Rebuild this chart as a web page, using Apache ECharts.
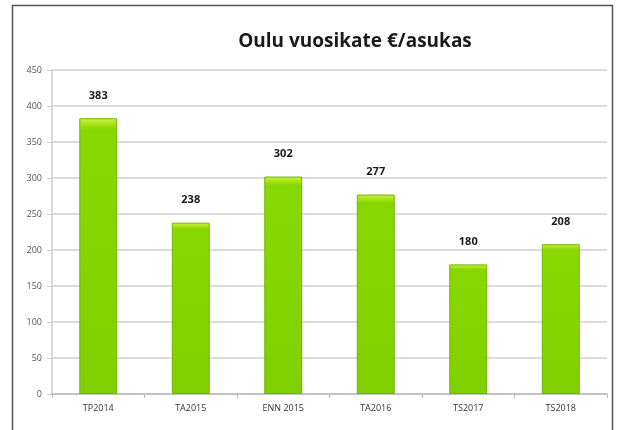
<!DOCTYPE html>
<html>
<head>
<meta charset="utf-8">
<script src="https://cdn.jsdelivr.net/npm/echarts@6/dist/echarts.min.js"></script>
<style>
  html, body { margin: 0; padding: 0; background: #fff; }
  #chart { width: 619px; height: 430px; }
</style>
</head>
<body>
<div id="chart"></div>
<script>
// kategoriat ja arvot kuvasta
const categories = ['TP2014', 'TA2015', 'ENN 2015', 'TA2016', 'TS2017', 'TS2018'];
const values = [383, 238, 302, 277, 180, 208];

const chart = echarts.init(document.getElementById('chart'));

const option = {
  animation: false,
  backgroundColor: '#fff',
  title: {
    text: 'Oulu vuosikate €/asukas',
    left: 350,
    top: 27,
    textAlign: 'center',
    textStyle: {
      fontFamily: 'Open Sans',
      fontWeight: 'bold',
      fontSize: 19,
      color: '#1a1a1a'
    }
  },
  // kehys kaavion ympärillä
  graphic: [{
    type: 'rect',
    shape: { x: 12.5, y: 5.5, width: 600, height: 440 },
    style: { fill: 'none', stroke: '#555', lineWidth: 1.5 },
    silent: true
  }],
  grid: {
    left: 52,
    right: 12,
    top: 70,
    bottom: 36
  },
  xAxis: {
    type: 'category',
    data: categories,
    axisLine: { lineStyle: { color: '#bbb', width: 1.5 } },
    axisTick: { show: true, alignWithLabel: false, length: 4, lineStyle: { color: '#bbb' } },
    axisLabel: {
      fontFamily: 'Open Sans',
      fontSize: 9,
      color: '#333',
      margin: 10
    }
  },
  yAxis: {
    type: 'value',
    min: 0,
    max: 450,
    interval: 50,
    axisLine: { show: true, lineStyle: { color: '#ccc', width: 1.5 } },
    axisTick: { show: true, length: 5, lineStyle: { color: '#ccc' } },
    axisLabel: {
      fontFamily: 'Open Sans',
      fontSize: 9,
      color: '#555',
      margin: 10
    },
    splitLine: { lineStyle: { color: '#dcdcdc', width: 2 } }
  },
  series: [{
    type: 'bar',
    data: values,
    barWidth: '41%',
    itemStyle: {
      color: new echarts.graphic.LinearGradient(0, 0, 0, 1, [
        { offset: 0, color: '#cdf24a' },
        { offset: 0.02, color: '#abe41c' },
        { offset: 0.04, color: '#88d800' },
        { offset: 1, color: '#80d000' }
      ]),
      borderColor: '#72b400',
      borderWidth: 1
    },
    label: {
      show: true,
      position: 'top',
      distance: 17,
      fontFamily: 'Open Sans',
      fontWeight: 'bold',
      fontSize: 11,
      color: '#1a1a1a'
    }
  }]
};

chart.setOption(option);
</script>
</body>
</html>
